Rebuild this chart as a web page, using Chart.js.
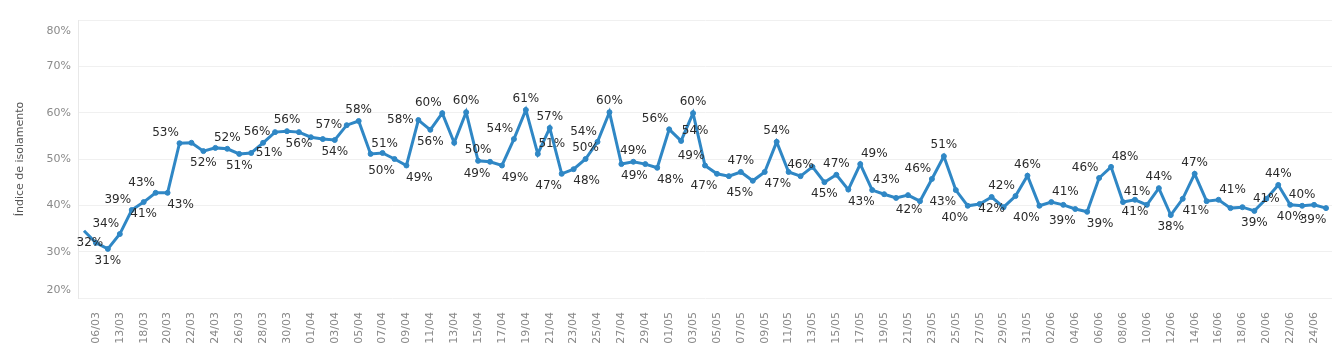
<!DOCTYPE html>
<html>
<head>
<meta charset="utf-8">
<script src="https://cdn.jsdelivr.net/npm/chart.js@4.4.1/dist/chart.umd.min.js"></script>
<style>
  html, body { margin: 0; padding: 0; background: #fff; }
  #wrap { width: 1341px; height: 363px; }
</style>
</head>
<body>
<div id="wrap"><canvas id="chart"></canvas></div>
<script>
// ---------- Data ----------
const dates = [
  '02/03', '06/03', '10/03', '13/03', '17/03', '18/03', '19/03', '20/03', '21/03', '22/03',
  '23/03', '24/03', '25/03', '26/03', '27/03', '28/03', '29/03', '30/03', '31/03', '01/04',
  '02/04', '03/04', '04/04', '05/04', '06/04', '07/04', '08/04', '09/04', '10/04', '11/04',
  '12/04', '13/04', '14/04', '15/04', '16/04', '17/04', '18/04', '19/04', '20/04', '21/04',
  '22/04', '23/04', '24/04', '25/04', '26/04', '27/04', '28/04', '29/04', '30/04', '01/05',
  '02/05', '03/05', '04/05', '05/05', '06/05', '07/05', '08/05', '09/05', '10/05', '11/05',
  '12/05', '13/05', '14/05', '15/05', '16/05', '17/05', '18/05', '19/05', '20/05', '21/05',
  '22/05', '23/05', '24/05', '25/05', '26/05', '27/05', '28/05', '29/05', '30/05', '31/05',
  '01/06', '02/06', '03/06', '04/06', '05/06', '06/06', '07/06', '08/06', '09/06', '10/06',
  '11/06', '12/06', '13/06', '14/06', '15/06', '16/06', '17/06', '18/06', '19/06', '20/06',
  '21/06', '22/06', '23/06', '24/06', '25/06'
];

// índice de isolamento (%)
const isolamento = [
  34.5, 31.9, 30.6, 33.8, 39.0, 40.7, 42.7, 42.7, 53.4, 53.5,
  51.7, 52.4, 52.2, 51.1, 51.3, 53.5, 55.8, 56.0, 55.8, 54.7,
  54.3, 54.1, 57.3, 58.2, 51.1, 51.3, 50.0, 48.6, 58.4, 56.3,
  59.9, 53.5, 60.1, 49.6, 49.4, 48.6, 54.3, 60.6, 51.1, 56.7,
  46.8, 47.8, 50.0, 53.7, 60.1, 48.9, 49.4, 48.9, 48.1, 56.4,
  53.9, 59.9, 48.6, 46.8, 46.3, 47.2, 45.3, 47.2, 53.7, 47.2,
  46.3, 48.3, 45.0, 46.6, 43.4, 48.9, 43.3, 42.4, 41.6, 42.2,
  40.9, 45.7, 50.6, 43.3, 39.9, 40.3, 41.8, 39.6, 42.0, 46.4,
  39.9, 40.7, 40.1, 39.2, 38.6, 45.9, 48.3, 40.7, 41.2, 40.1,
  43.7, 37.9, 41.4, 46.8, 40.9, 41.2, 39.4, 39.6, 38.8, 41.4,
  44.4, 40.1, 39.9, 40.1, 39.4
];

// rótulos mostrados no gráfico (null = sem rótulo)
const rotulos = [
  null, 32, 31, 34, 39, 41, 43, 43, 53, null,
  52, null, 52, 51, 51, null, 56, 56, 56, null,
  null, 54, 57, 58, 51, null, 50, 49, 58, 56,
  60, null, 60, 50, 49, 49, 54, 61, 51, 57,
  47, 48, 50, 54, 60, 49, 49, null, 48, 56,
  54, 60, 49, 47, null, 47, 45, 47, 54, null,
  46, null, 45, 47, 43, 49, 43, null, 42, null,
  null, 46, 51, 43, 40, null, 42, null, 42, 46,
  40, 41, null, 39, 39, 46, 48, 41, 41, null,
  44, 38, 41, 47, null, 41, null, null, 39, 41,
  44, 40, 40, null, 39
];

const yTicks = [20, 30, 40, 50, 60, 70, 80];

// ---------- Label placement (style) ----------
// a above, b below, l left, r right, al/ar/bl/br diagonals, c on the point, . none
const labelPlacement = (
  '. cl b al al b al br al . ' +
  'b . a b r . l a b . ' +
  '. b l a ar . bl br l b ' +
  'al . a a bl br al a ar a ' +
  'bl br a al a br a . br al ' +
  'ar a al bl . a bl br a . ' +
  'a . b a br ar ar . br . ' +
  '. al a bl bl . b . al a ' +
  'bl ar . bl br al ar ar b . ' +
  'a b br a . ar . . b c ' +
  'a b a . bl'
).split(' ');

const labelOffsets = {
  a: [0, -11], b: [0, 12], l: [-18, 0], r: [18, 0],
  al: [-14, -10], ar: [14, -10], bl: [-13, 12], br: [13, 12],
  c: [0, 0], cl: [-6, 0]
};

// ---------- Plugins ----------
const pointLabels = {
  id: 'pointLabels',
  afterDatasetsDraw(chart) {
    const meta = chart.getDatasetMeta(0);
    const ctx = chart.ctx;
    ctx.save();
    ctx.font = '12px "DejaVu Sans"';
    ctx.fillStyle = '#2a2a2a';
    ctx.textAlign = 'center';
    ctx.textBaseline = 'middle';
    meta.data.forEach((pt, i) => {
      const txt = rotulos[i];
      const off = labelOffsets[labelPlacement[i]];
      if (txt == null || !off) return;
      ctx.fillText(txt + '%', pt.x + off[0], pt.y + off[1]);
    });
    ctx.restore();
  }
};

// Tableau keeps the end labels inside the axis range
const yLabels = {
  id: 'yLabels',
  afterDraw(chart) {
    const y = chart.scales.y;
    const ctx = chart.ctx;
    ctx.save();
    ctx.font = '11px "DejaVu Sans"';
    ctx.fillStyle = '#8a8a8a';
    ctx.textAlign = 'right';
    ctx.textBaseline = 'middle';
    yTicks.forEach(v => {
      let py = y.getPixelForValue(v);
      if (v === y.max) py += 11;
      if (v === y.min) py -= 8;
      ctx.fillText(v + '%', chart.chartArea.left - 7, py);
    });
    ctx.restore();
  }
};

// ---------- Chart ----------
new Chart(document.getElementById('chart'), {
  type: 'line',
  data: {
    labels: dates,
    datasets: [{
      data: isolamento,
      borderColor: '#2f87c5',
      backgroundColor: '#2f87c5',
      borderWidth: 3,
      pointRadius: (c) => (c.dataIndex === 0 ? 0 : 2.5),
      pointBorderWidth: 1,
      pointHoverRadius: 2.5,
      tension: 0
    }]
  },
  options: {
    responsive: true,
    maintainAspectRatio: false,
    animation: false,
    layout: { padding: { left: 14, right: 9, top: 20, bottom: 0 } },
    plugins: { legend: { display: false }, tooltip: { enabled: false } },
    scales: {
      x: {
        type: 'category',
        offset: true,
        grid: { display: false },
        border: { display: false },
        ticks: {
          autoSkip: false,
          maxRotation: 90,
          minRotation: 90,
          padding: 6,
          color: '#888',
          font: { family: 'DejaVu Sans', size: 11 },
          callback: (v, i) => (i % 2 === 1 ? dates[i] : '')
        },
        afterFit: (s) => {
          s.height = 65;
          // no extra room for the rotated edge labels
          s.paddingLeft = 0;
          s.paddingRight = 0;
        }
      },
      y: {
        min: 20,
        max: 80,
        afterBuildTicks: (s) => { s.ticks = yTicks.map(v => ({ value: v })); },
        grid: { color: '#f0f0f0', drawTicks: false },
        border: { color: '#e8e8e8' },
        ticks: { display: false },
        title: {
          display: true,
          text: 'Índice de isolamento',
          color: '#555',
          font: { family: 'DejaVu Sans', size: 11 },
          padding: { top: 0, bottom: 0 }
        },
        afterFit: (s) => { s.width = 64; }
      }
    }
  },
  plugins: [pointLabels, yLabels]
});
</script>
</body>
</html>
